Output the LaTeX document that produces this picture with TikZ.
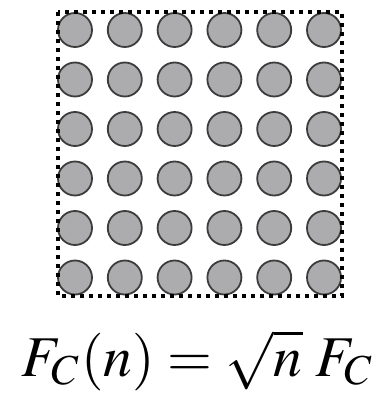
\documentclass[tikz,border=0pt]{standalone}
\usepackage{mathptmx}
\usepackage{graphicx}
\definecolor{ballfill}{RGB}{172,172,174}
\definecolor{balledge}{RGB}{60,60,60}
\tikzset{
  ball/.style={circle, draw=balledge, fill=ballfill, line width=1.8pt, minimum size=34pt, inner sep=0pt},
  frame/.style={draw=black, line width=3.6pt, dash pattern=on 4pt off 5pt},
  formula/.style={inner sep=0pt, anchor=base}
}
\begin{document}
\begin{tikzpicture}[x=1pt,y=-1pt]
\useasboundingbox[fill=white] (0,0) rectangle (385,396);
\foreach \i in {0,...,5}{
  \foreach \j in {0,...,5}{
    \node[ball] (c-\i-\j) at ({75+49.8*\i},{30+49.5*\j}) {};
  }
}
\draw[frame] (58,12) rectangle (342,296);
\node[formula] (eq) at (198.5,376) {\resizebox{353pt}{!}{$F_C(n)=\sqrt{n}\;F_C$}};
\end{tikzpicture}
\end{document}
